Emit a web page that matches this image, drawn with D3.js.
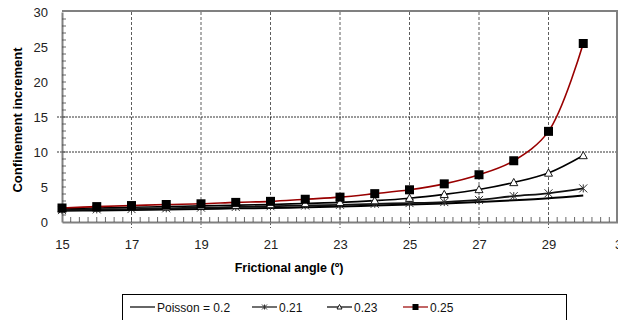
<!DOCTYPE html>
<html><head><meta charset="utf-8">
<script src="https://cdn.jsdelivr.net/npm/d3@7"></script>
<style>body{margin:0;background:#fff}svg{display:block}text{font-family:"Liberation Sans",Arial,sans-serif}</style>
</head><body>
<script>
const angles = [15,16,17,18,19,20,21,22,23,24,25,26,27,28,29,30];
const p020 = [1.6,1.65,1.7,1.8,1.85,1.95,2.0,2.1,2.2,2.35,2.5,2.65,2.85,3.1,3.4,3.8];
const p021 = [1.7,1.8,1.85,1.95,2.05,2.15,2.25,2.35,2.45,2.6,2.7,2.85,3.15,3.7,4.1,4.8];
const p023 = [1.9,2.0,2.1,2.2,2.3,2.4,2.5,2.65,2.8,3.05,3.4,3.95,4.65,5.65,7.0,9.5];
const p025 = [2.0,2.2,2.35,2.5,2.6,2.8,2.95,3.25,3.55,4.05,4.6,5.45,6.75,8.75,12.95,25.5];
const seriesNames = ["Poisson = 0.2","0.21","0.23","0.25"];
const xTicks = [15,17,19,21,23,25,27,29,31];
const yTicks = [0,5,10,15,20,25,30];
const yGrid = [10,15];

const W=618,H=320;
const svg=d3.select("body").append("svg").attr("width",W).attr("height",H);
const x=d3.scaleLinear().domain([15,31]).range([62,618]);
const y=d3.scaleLinear().domain([0,30]).range([222,12]);
const gray="#808080";

// vertical grid
svg.append("g").selectAll("line").data(xTicks.slice(1,-1)).join("line")
 .attr("x1",d=>x(d)).attr("x2",d=>x(d)).attr("y1",y(30)).attr("y2",228)
 .attr("stroke","#333").attr("stroke-width",0.8).attr("stroke-dasharray","3,2");
// horizontal grid
svg.append("g").selectAll("line").data(yGrid).join("line")
 .attr("x1",57).attr("x2",618).attr("y1",d=>y(d)).attr("y2",d=>y(d))
 .attr("stroke","#000").attr("stroke-width",0.8).attr("stroke-dasharray","2,1");

// frame
svg.append("line").attr("x1",62).attr("x2",618).attr("y1",y(30)-1).attr("y2",y(30)-1).attr("stroke",gray).attr("stroke-width",2);
svg.append("line").attr("x1",617).attr("x2",617).attr("y1",y(30)-1).attr("y2",222).attr("stroke",gray).attr("stroke-width",2);

// axes
const xAxis=d3.axisBottom(x).tickValues(xTicks).tickSize(0).tickPadding(18).tickFormat(d=>d===31?"3":d);
const gx=svg.append("g").attr("transform","translate(0,222)").call(xAxis);
gx.select(".domain").attr("stroke",gray).attr("stroke-width",2);
gx.selectAll("text").attr("font-size",13).attr("fill","#222");
// x minor ticks
svg.append("g").selectAll("line").data(d3.range(15.25,31,0.25)).join("line")
 .attr("x1",d=>x(d)).attr("x2",d=>x(d)).attr("y1",222).attr("y2",217).attr("stroke","#444").attr("stroke-width",0.8);

const yAxis=d3.axisLeft(y).tickValues(yTicks).tickSize(0).tickPadding(14);
const gy=svg.append("g").attr("transform","translate(62,0)").call(yAxis);
gy.select(".domain").attr("stroke",gray).attr("stroke-width",2);
gy.selectAll("text").attr("font-size",13).attr("fill","#222");
svg.append("g").selectAll("line").data(d3.range(1,30,1)).join("line")
 .attr("x1",62).attr("x2",66).attr("y1",d=>y(d)).attr("y2",d=>y(d)).attr("stroke","#444").attr("stroke-width",0.8);

// titles
svg.append("text").attr("x",289).attr("y",272).attr("text-anchor","middle").attr("font-size",12.5).attr("font-weight","bold").text("Frictional angle (º)");
svg.append("text").attr("transform","translate(22,120) rotate(-90)").attr("text-anchor","middle").attr("font-size",13).attr("font-weight","bold").text("Confinement increment");

const line=d3.line().x(d=>x(d[0])).y(d=>y(d[1])).curve(d3.curveCatmullRom.alpha(0.5));
const all=[p020,p021,p023,p025];
const colors=["#000","#111","#000","#990000"];
const widths=[2,1.8,1.6,1.6];
const pts=v=>angles.map((a,i)=>[a,v[i]]);

all.forEach((v,k)=>{
 svg.append("path").datum(pts(v)).attr("d",line).attr("fill","none").attr("stroke",colors[k]).attr("stroke-width",widths[k]);
});

function asterisk(g,cx,cy,r){
 const p=d3.path();
 p.moveTo(cx-r,cy-r);p.lineTo(cx+r,cy+r);p.moveTo(cx-r,cy+r);p.lineTo(cx+r,cy-r);p.moveTo(cx,cy-r);p.lineTo(cx,cy+r);
 g.append("path").attr("d",p.toString()).attr("stroke","#333").attr("stroke-width",1).attr("fill","none");
}
function tri(g,cx,cy,r){
 g.append("path").attr("d",`M${cx},${cy-r}L${cx+r},${cy+r*0.8}L${cx-r},${cy+r*0.8}Z`).attr("fill","#fff").attr("stroke","#000").attr("stroke-width",0.9);
}
function sq(g,cx,cy,s){
 g.append("rect").attr("x",cx-s/2).attr("y",cy-s/2).attr("width",s).attr("height",s).attr("fill","#000");
}
const gm=svg.append("g");
pts(p021).forEach(d=>asterisk(gm,x(d[0]),y(d[1]),4));
pts(p023).forEach(d=>tri(gm,x(d[0]),y(d[1]),4));
pts(p025).forEach(d=>sq(gm,x(d[0]),y(d[1]),9));

// legend
const lg=svg.append("g");
lg.append("rect").attr("x",122.5).attr("y",294.5).attr("width",444).attr("height",40).attr("fill","#fff").attr("stroke","#000").attr("stroke-width",1);
const lx=[130,252,327,403];
const ly=307;
seriesNames.forEach((n,k)=>{
 lg.append("line").attr("x1",lx[k]).attr("x2",lx[k]+25).attr("y1",ly).attr("y2",ly).attr("stroke",colors[k]).attr("stroke-width",1.2);
 if(k===1) asterisk(lg,lx[k]+12.5,ly,2.5);
 if(k===2) tri(lg,lx[k]+12.5,ly,2.5);
 if(k===3) sq(lg,lx[k]+12.5,ly,6);
 lg.append("text").attr("x",lx[k]+27).attr("y",ly+4.5).attr("font-size",12).attr("fill","#111").text(n);
});
</script>
</body></html>
